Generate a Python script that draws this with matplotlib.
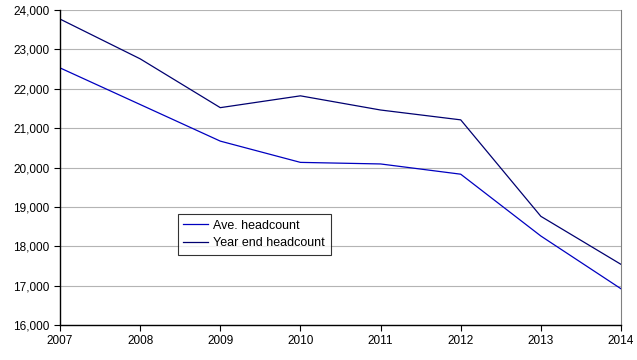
import matplotlib
matplotlib.use("Agg")
import matplotlib.pyplot as plt
from matplotlib.ticker import FuncFormatter, MultipleLocator

years = [2007, 2008, 2009, 2010, 2011, 2012, 2013, 2014]
ave_headcount = [22530, 21600, 20670, 20130, 20090, 19830, 18260, 16920]
year_end_headcount = [23770, 22760, 21520, 21820, 21460, 21210, 18760, 17540]

plt.rcParams['font.family'] = ['Liberation Sans', 'DejaVu Sans']

fig = plt.figure(figsize=(6.37, 3.6), dpi=100)
ax = fig.add_axes([60/637, 1-325/360, 561/637, 315/360])

ax.plot(years, ave_headcount, color='#0000C0', lw=0.9, label='Ave. headcount')
ax.plot(years, year_end_headcount, color='#000070', lw=0.9, label='Year end headcount')

ax.set_xlim(2007, 2014)
ax.set_ylim(16000, 24000)
ax.yaxis.set_major_locator(MultipleLocator(1000))
ax.yaxis.set_major_formatter(FuncFormatter(lambda v, p: f"{int(v):,}"))
ax.set_xticks(years)
ax.grid(axis='y', color='#b4b4b4', lw=0.8)
ax.set_axisbelow(True)
ax.spines['right'].set_color('#808080')
ax.spines['right'].set_linewidth(0.8)
ax.spines['top'].set_visible(False)
for s in ['left', 'bottom']:
    ax.spines[s].set_color('black')
    ax.spines[s].set_linewidth(1.0)
ax.tick_params(axis='both', direction='out', length=4, width=0.8, labelsize=8.5, colors='black')

leg = ax.legend(loc='lower left', bbox_to_anchor=(0.21, 0.222), fontsize=9,
                frameon=True, fancybox=False, edgecolor='black', handlelength=2.0,
                borderpad=0.45, labelspacing=0.45, handletextpad=0.4, borderaxespad=0)
leg.get_frame().set_linewidth(0.8)

fig.savefig('out.png', dpi=100)
